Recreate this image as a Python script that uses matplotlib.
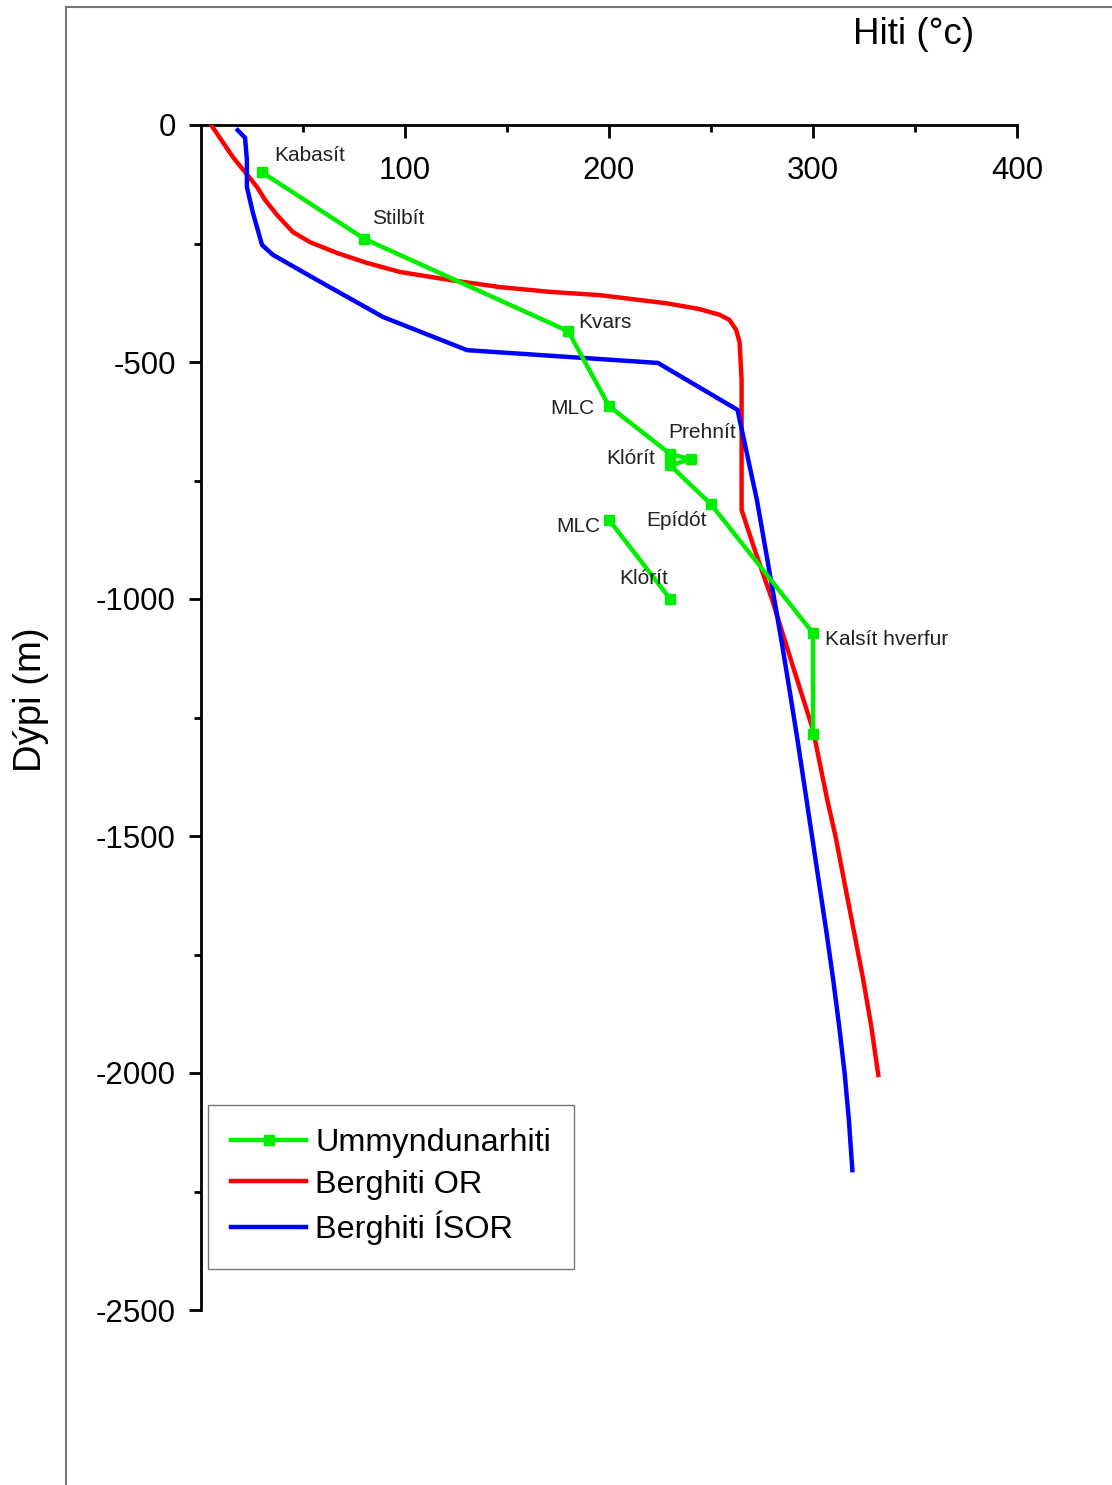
import numpy as np
import matplotlib
matplotlib.use("Agg")
import matplotlib.pyplot as plt
from matplotlib.lines import Line2D

plt.rcParams['font.family'] = ['Liberation Sans', 'DejaVu Sans']
plt.rcParams['axes.unicode_minus'] = False

# --- Data ---------------------------------------------------------------
# Ummyndunarhiti (alteration temperature), NaN separates the two branches
alt_temp = [30, 80, 180, 200, 230, 240, 230, 250, 300, 300, np.nan, 200, 230]
alt_depth = [-100, -240, -435, -593, -694, -705, -718, -800, -1072, -1285, np.nan, -833, -1000]

# Berghiti OR
or_temp = [5, 15.7, 27.5, 31.4, 37.3, 45.1, 53.4, 66.7, 81.4, 97.5, 122, 146.6, 171,
           195.6, 228, 244, 254, 259, 262.3, 264, 265, 265,
           272.5, 280, 290, 300, 307, 311, 315.5, 320, 324.5, 328.5, 332]
or_depth = [0, -68, -131, -158, -190, -226, -247, -270, -291, -310, -327, -342, -352,
            -359, -376, -388, -400, -411, -432, -458, -538, -812,
            -910, -1002, -1140, -1276, -1424, -1500, -1600, -1700, -1800, -1900, -2004]

# Berghiti ÍSOR
isor_temp = [18, 21.6, 22.5, 22.5, 25.5, 29.9, 35.3, 56.9, 89.2, 130.4, 224, 263, 272.5,
             281, 285, 288.8, 292.5, 296, 299.5, 303, 306.5, 309.8, 312.8, 315.5, 317.6, 319.3]
isor_depth = [-11, -27, -74, -131, -186, -253, -274, -327, -405, -475, -502, -601, -791,
              -1000, -1100, -1200, -1300, -1400, -1500, -1600, -1700, -1800, -1900, -2000,
              -2100, -2205]

# Mineral labels: (text, temperature, depth)
mineral_names = ['Kabasít', 'Stilbít', 'Kvars', 'MLC', 'Prehnít', 'Klórít', 'Epídót',
                 'MLC', 'Klórít', 'Kalsít hverfur']
mineral_temp = [36, 84, 185, 171, 229, 198.5, 218.5, 174, 205, 306]
mineral_depth = [-65, -198, -416, -599, -648, -703, -835, -846, -956, -1086]

x_major = [100, 200, 300, 400]
x_minor = [50, 150, 250, 350]
y_major = [0, -500, -1000, -1500, -2000, -2500]
y_minor = [-250, -750, -1250, -1750, -2250]

# --- Figure -------------------------------------------------------------
W, H = 1112, 1485
fig = plt.figure(figsize=(W / 100, H / 100), dpi=100)
ax = fig.add_axes([201 / W, 1 - 1310 / H, (1017 - 201) / W, (1310 - 125) / H])

green = '#00ee00'
lw = 3.2
ax.plot(alt_temp, alt_depth, color=green, lw=lw, marker='s', ms=7,
        mec=green, mfc=green, label='Ummyndunarhiti', zorder=4)
ax.plot(or_temp, or_depth, color='#ff0000', lw=lw, label='Berghiti OR', zorder=3,
        solid_joinstyle='round')
ax.plot(isor_temp, isor_depth, color='#0000ff', lw=lw, label='Berghiti ÍSOR', zorder=3,
        solid_joinstyle='round')

for name, t, d in zip(mineral_names, mineral_temp, mineral_depth):
    ax.text(t, d, name, fontsize=15, ha='left', va='center', color='#222222', zorder=5)

ax.set_xlim(0, 400)
ax.set_ylim(-2500, 0)

for s in ['right', 'bottom']:
    ax.spines[s].set_visible(False)
for s in ['left', 'top']:
    ax.spines[s].set_linewidth(2.0)
    ax.spines[s].set_color('black')

ax.xaxis.tick_top()
ax.set_xticks(x_major)
ax.set_xticks(x_minor, minor=True)
ax.tick_params(axis='x', which='major', direction='in', length=9, width=2.0,
               labelsize=22.5, pad=-44, top=True, bottom=False, labeltop=True, labelbottom=False)
ax.tick_params(axis='x', which='minor', direction='in', length=5, width=2.0,
               top=True, bottom=False)

ax.set_yticks(y_major)
ax.set_yticks(y_minor, minor=True)
ax.set_yticklabels([str(v) for v in y_major])
ax.tick_params(axis='y', which='major', direction='out', length=9, width=2.0,
               labelsize=22.5, pad=9)
ax.tick_params(axis='y', which='minor', direction='out', length=5, width=2.0)

fig.text(914 / W, 1 - 34 / H, 'Hiti (°c)', fontsize=26.5, ha='center', va='center')
fig.text(31 / W, 1 - 700 / H, 'Dýpi (m)', fontsize=27.5, ha='center', va='center',
         rotation=90)

leg = ax.legend(loc='upper left', bbox_to_anchor=((208 - 201) / 816, (1310 - 1105) / 1185),
                borderaxespad=0, fontsize=23.3, frameon=True, fancybox=False,
                handlelength=2.3, handletextpad=0.3, numpoints=1, borderpad=0.72,
                labelspacing=0.35)
leg.get_frame().set_edgecolor('#555555')
leg.get_frame().set_linewidth(1.0)

# outer frame lines of the original image
fig.add_artist(Line2D([66 / W, 66 / W], [0, 1 - 7 / H], transform=fig.transFigure,
                      color='#777777', lw=1.5))
fig.add_artist(Line2D([66 / W, 1], [1 - 7 / H, 1 - 7 / H], transform=fig.transFigure,
                      color='#777777', lw=1.5))

fig.savefig('out.png', dpi=100)
